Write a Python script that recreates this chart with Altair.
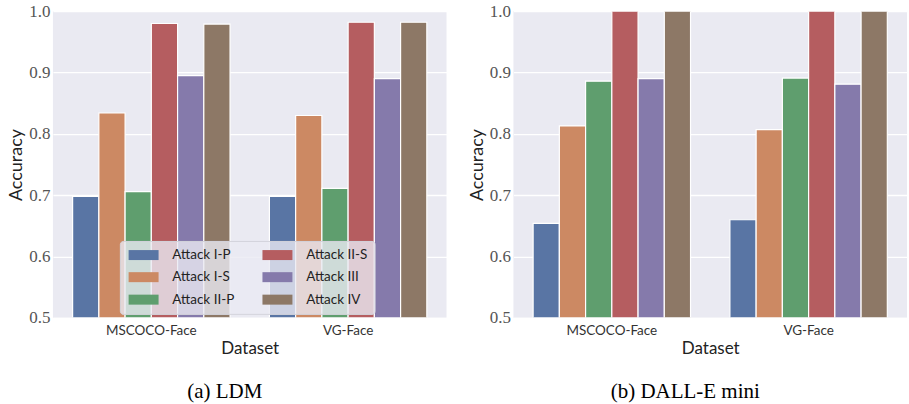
import altair as alt
import pandas as pd

datasets = ["MSCOCO-Face", "VG-Face"]
attacks = ["Attack I-P", "Attack I-S", "Attack II-P", "Attack II-S", "Attack III", "Attack IV"]
colors = ["#5975a4", "#cc8963", "#5f9e6e", "#b55d60", "#857aab", "#8d7866"]

ldm_mscoco = [0.698, 0.834, 0.706, 0.980, 0.895, 0.979]
ldm_vg = [0.698, 0.830, 0.711, 0.982, 0.890, 0.982]
dalle_mscoco = [0.654, 0.813, 0.886, 1.000, 0.890, 1.000]
dalle_vg = [0.660, 0.807, 0.891, 1.000, 0.881, 1.000]
y_ticks = [0.5, 0.6, 0.7, 0.8, 0.9, 1.0]
captions = ["(a) LDM", "(b) DALL-E mini"]


def make_df(v1, v2):
    rows = []
    for ds, vals in zip(datasets, [v1, v2]):
        for a, v in zip(attacks, vals):
            rows.append({"Dataset": ds, "Attack": a, "Accuracy": v})
    return pd.DataFrame(rows)


def panel(df, caption, legend):
    return alt.Chart(df).mark_bar(stroke="white", strokeWidth=1.2, clip=True).encode(
        x=alt.X("Dataset:N", sort=datasets,
                scale=alt.Scale(paddingInner=0.2, paddingOuter=0.1),
                axis=alt.Axis(title="Dataset", labelAngle=0, grid=False,
                              labelFont="Lato", labelFontSize=13.5, labelColor="#333333",
                              labelPadding=6, titleFont="Lato", titleFontSize=17,
                              titleFontWeight="normal", titleColor="#222222",
                              titlePadding=3)),
        xOffset=alt.XOffset("Attack:N", sort=attacks,
                            scale=alt.Scale(paddingInner=0, paddingOuter=0)),
        y=alt.Y("Accuracy:Q",
                scale=alt.Scale(domain=[0.5, 1.0], zero=False, nice=False),
                axis=alt.Axis(title="Accuracy", values=y_ticks, format=".1f",
                              labelFont="Liberation Serif, Times New Roman, serif",
                              labelFontSize=17,
                              labelColor="#555555", labelPadding=3,
                              titleFont="Lato", titleFontSize=18,
                              titleFontWeight="normal", titleColor="#222222",
                              titlePadding=3)),
        y2=alt.datum(0.5),
        color=alt.Color("Attack:N", scale=alt.Scale(domain=attacks, range=colors),
                        legend=legend),
    ).properties(
        width=394, height=307,
        title=alt.TitleParams(caption, orient="bottom", font="Liberation Serif",
                              fontSize=21, fontWeight="normal", color="black",
                              offset=25, dx=-25, anchor="middle"),
    )


leg = alt.Legend(orient="none", legendX=67, legendY=230, columns=2, title=None,
                 fillColor="rgba(234,234,242,0.8)", strokeColor="#d4d4dc",
                 cornerRadius=3, padding=7,
                 symbolType="M-1,-1H5V1H-1Z", symbolSize=100,
                 symbolStrokeWidth=0, symbolOpacity=1,
                 labelFont="Lato", labelFontSize=13.5, labelColor="#222",
                 labelOffset=32, rowPadding=7.5, columnPadding=26)

a = panel(make_df(ldm_mscoco, ldm_vg), captions[0], leg)
b = panel(make_df(dalle_mscoco, dalle_vg), captions[1], None)

chart = alt.hconcat(a, b, spacing=21).properties(
    padding={"left": 7, "top": 2, "right": 2, "bottom": 0}
).configure_view(fill="#EAEAF2", stroke=None).configure_axis(
    domain=False, ticks=False, gridColor="white", gridWidth=1.3,
)

chart.save("out.html", embed_options={"renderer": "svg", "actions": False})
